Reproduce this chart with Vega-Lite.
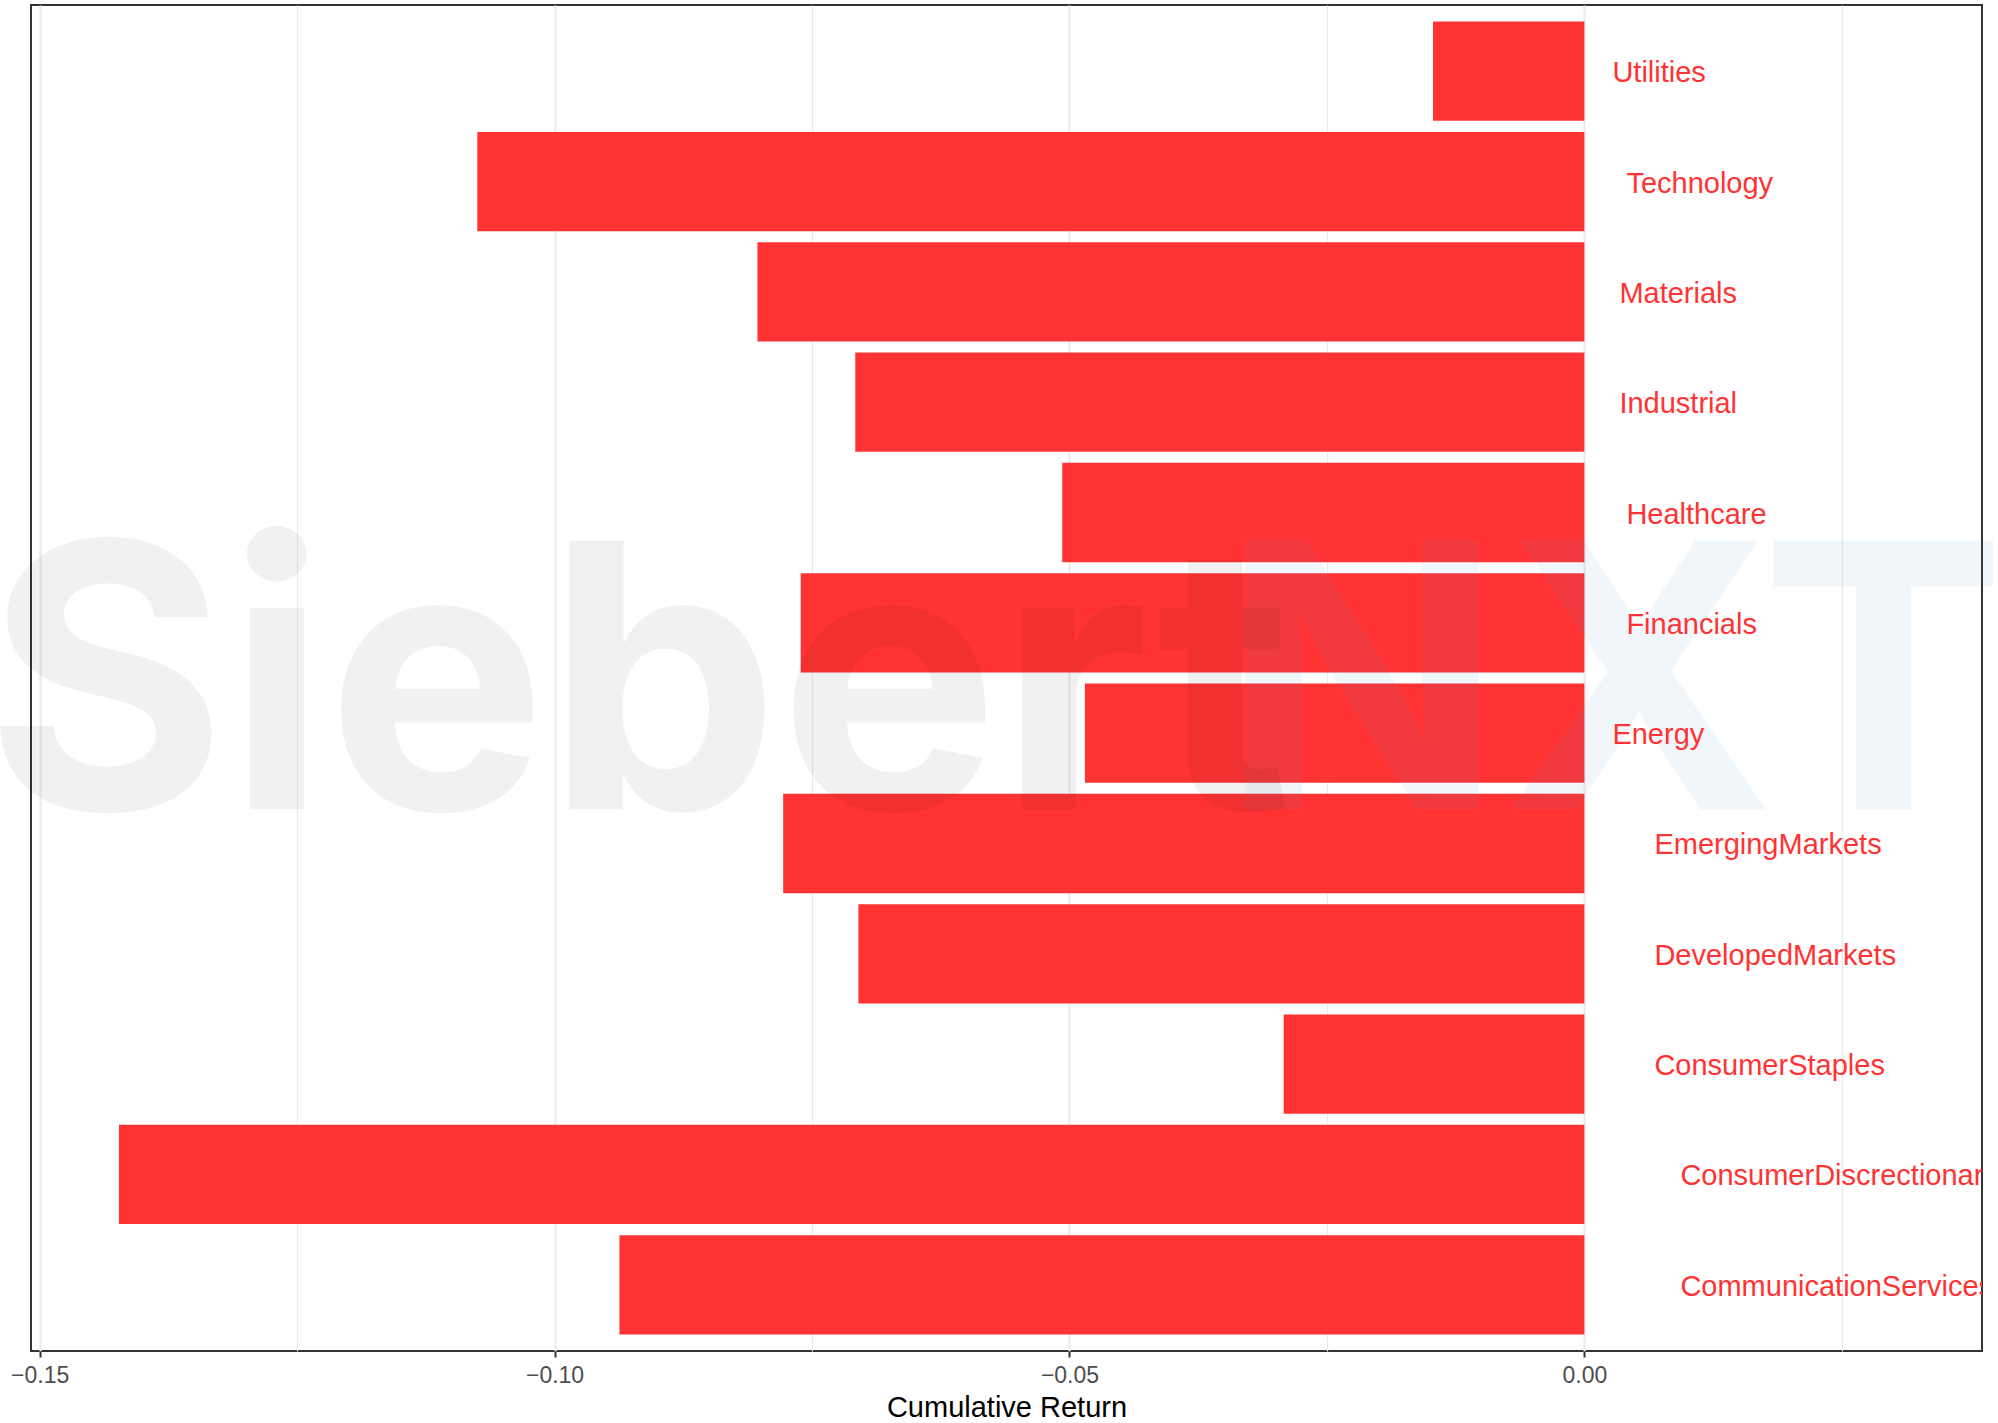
{
  "$schema": "https://vega.github.io/schema/vega-lite/v6.json",
  "autosize": {"type": "none"},
  "padding": {"left": 31, "top": 5, "right": 16, "bottom": 72},
  "width": 1951,
  "height": 1346,
  "background": "white",
  "config": {
    "view": {"stroke": "#333333", "strokeWidth": 2},
    "font": "Liberation Sans"
  },
  "data": {
    "values": [
      {"sector": "Utilities", "value": -0.0147},
      {"sector": "Technology", "value": -0.1075},
      {"sector": "Materials", "value": -0.0803},
      {"sector": "Industrial", "value": -0.0708},
      {"sector": "Healthcare", "value": -0.0507},
      {"sector": "Financials", "value": -0.0761},
      {"sector": "Energy", "value": -0.0485},
      {"sector": "EmergingMarkets", "value": -0.0778},
      {"sector": "DevelopedMarkets", "value": -0.0705},
      {"sector": "ConsumerStaples", "value": -0.0292},
      {"sector": "ConsumerDiscrectionary", "value": -0.1423},
      {"sector": "CommunicationServices", "value": -0.0937}
    ]
  },
  "encoding": {
    "y": {
      "field": "sector",
      "type": "nominal",
      "sort": "descending",
      "scale": {"paddingInner": 0.1, "paddingOuter": 0.15},
      "axis": null
    }
  },
  "layer": [
    {
      "mark": {"type": "bar", "color": "#FF3333"},
      "encoding": {
        "x": {
          "field": "value",
          "type": "quantitative",
          "scale": {"domain": [-0.15084, 0.03861], "nice": false, "zero": false},
          "axis": {
            "values": [-0.15, -0.125, -0.1, -0.075, -0.05, -0.025, 0, 0.025],
            "format": ".2f",
            "labelExpr": "indexof([-0.125, -0.075, -0.025, 0.025], datum.value) >= 0 ? '' : datum.label",
            "grid": true,
            "gridColor": "#EBEBEB",
            "gridWidth": {"condition": {"test": "indexof([-0.125, -0.075, -0.025, 0.025], datum.value) >= 0", "value": 1.2}, "value": 2.2},
            "tickOpacity": {"condition": {"test": "indexof([-0.125, -0.075, -0.025, 0.025], datum.value) >= 0", "value": 0}, "value": 1},
            "domain": false,
            "ticks": true,
            "tickColor": "#333333",
            "tickWidth": 2,
            "tickSize": 6,
            "labelFont": "Liberation Sans",
            "labelFontSize": 23,
            "labelColor": "#4D4D4D",
            "labelPadding": 7,
            "labelFlush": false,
            "title": "Cumulative Return",
            "titleFont": "Liberation Sans",
            "titleFontSize": 29,
            "titleFontWeight": "normal",
            "titleColor": "#000000",
            "titlePadding": 6
          }
        }
      }
    },
    {
      "transform": [{"filter": "datum.sector == 'Energy'"}],
      "mark": {"type": "text", "text": "Siebert", "font": "Inter", "fontWeight": "bold", "fontSize": 369, "align": "left", "baseline": "alphabetic", "dy": 76, "fill": "#000000", "opacity": 0.052},
      "encoding": {"x": {"datum": -0.1553, "type": "quantitative"}}
    },
    {
      "transform": [{"filter": "datum.sector == 'Energy'"}],
      "mark": {"type": "text", "text": "NXT", "font": "Inter", "fontWeight": "bold", "fontSize": 369, "align": "right", "baseline": "alphabetic", "dy": 76, "fill": "#5591CD", "opacity": 0.075},
      "encoding": {"x": {"datum": 0.041, "type": "quantitative"}}
    },
    {
      "transform": [{"filter": {"field": "sector", "oneOf": ["Utilities", "Energy"]}}],
      "mark": {"type": "text", "align": "left", "baseline": "middle", "dx": 28, "dy": 2, "fontSize": 29, "font": "Liberation Sans", "color": "#FF3333", "clip": true},
      "encoding": {"x": {"datum": 0, "type": "quantitative"}, "text": {"field": "sector"}}
    },
    {
      "transform": [{"filter": {"field": "sector", "oneOf": ["Materials", "Industrial"]}}],
      "mark": {"type": "text", "align": "left", "baseline": "middle", "dx": 35, "dy": 2, "fontSize": 29, "font": "Liberation Sans", "color": "#FF3333", "clip": true},
      "encoding": {"x": {"datum": 0, "type": "quantitative"}, "text": {"field": "sector"}}
    },
    {
      "transform": [{"filter": {"field": "sector", "oneOf": ["Financials", "Healthcare", "Technology"]}}],
      "mark": {"type": "text", "align": "left", "baseline": "middle", "dx": 42, "dy": 2, "fontSize": 29, "font": "Liberation Sans", "color": "#FF3333", "clip": true},
      "encoding": {"x": {"datum": 0, "type": "quantitative"}, "text": {"field": "sector"}}
    },
    {
      "transform": [{"filter": {"field": "sector", "oneOf": ["EmergingMarkets", "DevelopedMarkets", "ConsumerStaples"]}}],
      "mark": {"type": "text", "align": "left", "baseline": "middle", "dx": 70, "dy": 2, "fontSize": 29, "font": "Liberation Sans", "color": "#FF3333", "clip": true},
      "encoding": {"x": {"datum": 0, "type": "quantitative"}, "text": {"field": "sector"}}
    },
    {
      "transform": [{"filter": {"field": "sector", "oneOf": ["ConsumerDiscrectionary", "CommunicationServices"]}}],
      "mark": {"type": "text", "align": "left", "baseline": "middle", "dx": 96, "dy": 2, "fontSize": 29, "font": "Liberation Sans", "color": "#FF3333", "clip": true},
      "encoding": {"x": {"datum": 0, "type": "quantitative"}, "text": {"field": "sector"}}
    }
  ]
}
